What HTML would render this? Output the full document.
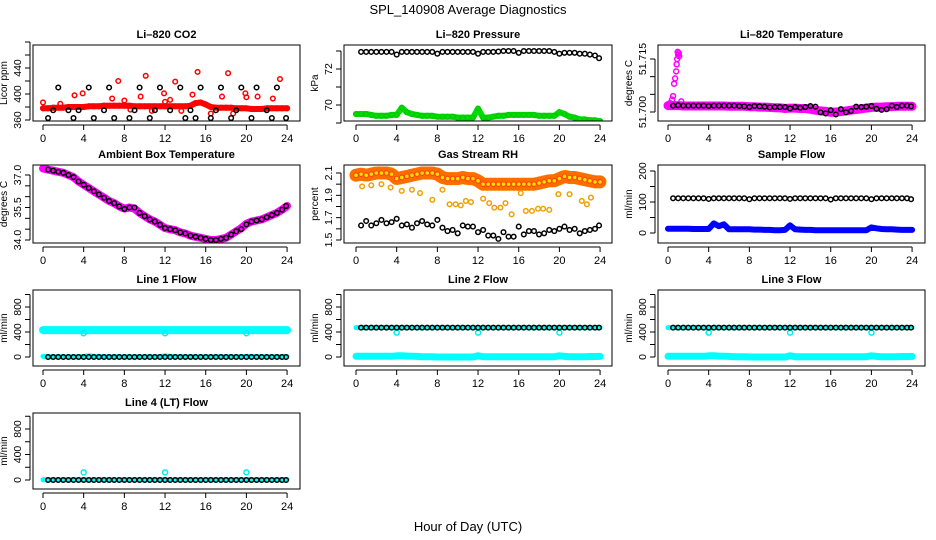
<!DOCTYPE html>
<html><head><meta charset="utf-8"><style>
body{margin:0;background:#fff}
svg{display:block;font-family:"Liberation Sans",Arial,sans-serif}
</style></head><body>
<svg id="chart" width="936" height="540" viewBox="0 0 936 540" xmlns="http://www.w3.org/2000/svg">
<text x="468" y="14" text-anchor="middle" font-size="13">SPL_140908  Average Diagnostics</text>
<text x="468" y="531" text-anchor="middle" font-size="13">Hour of Day (UTC)</text>
</svg>
<script>
// hours
const hoursBlack=[0.5,1,1.5,2,2.5,3,3.5,4,4.5,5,5.5,6,6.5,7,7.5,8,8.5,9,9.5,10,10.5,11,11.5,12,12.5,13,13.5,14,14.5,15,15.5,16,16.5,17,17.5,18,18.5,19,19.5,20,20.5,21,21.5,22,22.5,23,23.5,23.9];
const hoursBand=[0,0.5,1,1.5,2,2.5,3,3.5,4,4.5,5,5.5,6,6.5,7,7.5,8,8.5,9,9.5,10,10.5,11,11.5,12,12.5,13,13.5,14,14.5,15,15.5,16,16.5,17,17.5,18,18.5,19,19.5,20,20.5,21,21.5,22,22.5,23,23.5,24];
const xTicks=[0,4,8,12,16,20,24];
// CO2
const co2Black=[363,375,410,480,375,363,375,480,410,363,480,375,410,363,480,480,363,375,410,480,363,375,410,480,375,480,410,363,375,363,410,480,363,375,410,480,363,375,410,480,363,410,480,375,363,410,480,363];
const co2Red=[378,378,379,379,379,380,380,380,380,381,381,381,382,382,382,382,382,382,381,381,381,381,381,381,381,381,381,381,381,382,386,387,384,380,379,379,379,379,378,378,378,377,377,377,378,378,378,378,378];
const co2RedOutH=[0,1.7,3.1,3.9,6.8,7.4,8,8.6,9.6,10.1,10.7,11.9,12,12.5,13,13.6,14.7,15.2,16.5,17.6,18.2,18.7,19.9,20,21.1,22.6,23.3];
const co2RedOutV=[387,385,398,401,393,420,390,376,396,428,374,401,388,391,419,374,399,434,370,396,432,370,401,395,396,393,423];
// Pressure
const presBlack=[72.95,72.95,72.95,72.95,72.95,72.95,72.95,72.8,72.95,72.95,72.95,72.95,72.95,72.95,72.95,72.85,72.95,72.95,72.95,72.95,72.95,72.95,72.95,72.85,72.95,72.95,72.95,72.97,73,73,73,72.9,73,73,73,73,73,73,72.95,72.85,72.9,72.9,72.9,72.85,72.85,72.8,72.75,72.6];
const presGreen=[69.5,69.5,69.5,69.45,69.4,69.4,69.4,69.45,69.45,69.85,69.6,69.5,69.45,69.4,69.4,69.4,69.35,69.35,69.35,69.35,69.3,69.3,69.3,69.3,69.8,69.3,69.3,69.35,69.4,69.4,69.45,69.45,69.45,69.45,69.45,69.45,69.4,69.4,69.4,69.4,69.6,69.5,69.35,69.3,69.2,69.2,69.15,69.15,69.1];
// Li-820 temperature
const tempBlack=[51.7018,51.7019,51.7018,51.7018,51.7018,51.7018,51.7018,51.7017,51.7018,51.7018,51.7018,51.7018,51.7018,51.7017,51.7016,51.7014,51.7017,51.7016,51.7015,51.7013,51.7014,51.7014,51.7014,51.7010,51.7014,51.7012,51.7014,51.7017,51.7015,51.6999,51.6996,51.7005,51.6993,51.7008,51.6999,51.7003,51.7015,51.7014,51.7015,51.7017,51.7009,51.7006,51.7008,51.7018,51.7014,51.7018,51.7018,51.7016];
const tempMag=[51.7018,51.7018,51.7018,51.7017,51.7017,51.7017,51.7017,51.7017,51.7017,51.7017,51.7017,51.7017,51.7016,51.7016,51.7016,51.7016,51.7015,51.7015,51.7014,51.7014,51.7013,51.7012,51.7012,51.7010,51.7011,51.7011,51.7010,51.7010,51.7008,51.7005,51.7003,51.7002,51.6999,51.7000,51.7001,51.7003,51.7005,51.7007,51.7009,51.7011,51.7013,51.7014,51.7014,51.7015,51.7015,51.7016,51.7016,51.7016,51.7016];
const tempSpikeH=[0.2,0.4,0.5,0.6,0.7,0.8,0.85,0.9,0.95,1.0,1.05,1.1,1.3];
const tempSpikeV=[51.7025,51.7035,51.7045,51.7080,51.7095,51.7115,51.7135,51.7150,51.7170,51.7162,51.7167,51.7158,51.7030];
// Ambient
const ambBlack=[37.25,37.2,37.15,37.1,37.0,36.9,36.7,36.55,36.4,36.25,36.1,35.95,35.8,35.7,35.55,35.43,35.5,35.5,35.25,35.1,34.95,34.85,34.7,34.55,34.5,34.45,34.35,34.3,34.2,34.15,34.1,34.05,34.0,34.0,34.05,34.1,34.25,34.4,34.5,34.72,34.85,34.9,34.95,35.05,35.15,35.25,35.4,35.57];
const ambMag=[37.3,37.25,37.2,37.15,37.1,37.0,36.9,36.7,36.55,36.4,36.25,36.1,35.95,35.8,35.7,35.55,35.45,35.5,35.45,35.25,35.1,34.95,34.85,34.7,34.55,34.5,34.45,34.35,34.3,34.2,34.15,34.1,34.05,34.0,34.0,34.05,34.1,34.25,34.4,34.55,34.75,34.85,34.9,34.95,35.05,35.15,35.25,35.4,35.57];
// Gas stream RH
const rhYellow=[2.08,2.09,2.08,2.09,2.1,2.1,2.1,2.09,2.05,2.06,2.07,2.08,2.09,2.1,2.1,2.1,2.09,2.06,2.05,2.05,2.05,2.06,2.05,2.05,2.03,2.0,2.0,2.0,2.0,2.0,2.0,2.0,2.0,2.0,2.0,2.0,2.01,2.02,2.03,2.03,2.05,2.07,2.06,2.06,2.05,2.04,2.03,2.02,2.02];
const rhOutH=[0.6,1.5,2.5,3.4,4.5,5.5,6.3,7.5,8.5,9.2,9.8,10.3,10.8,11.3,12.5,13.1,13.6,14.2,14.7,15.3,16.2,16.7,17.3,17.9,18.4,19.0,19.9,21,22.2,22.7,23.1];
const rhOutV=[1.98,1.99,2.0,1.97,1.94,1.95,1.92,1.86,1.95,1.82,1.82,1.81,1.85,1.84,1.87,1.83,1.79,1.79,1.83,1.73,1.92,1.76,1.76,1.78,1.78,1.77,1.91,1.91,1.85,1.82,1.88];
const rhBlack=[1.63,1.67,1.63,1.65,1.68,1.65,1.66,1.69,1.63,1.64,1.61,1.65,1.67,1.64,1.63,1.68,1.61,1.58,1.59,1.56,1.63,1.62,1.62,1.57,1.59,1.54,1.54,1.51,1.57,1.53,1.53,1.62,1.55,1.58,1.58,1.55,1.56,1.59,1.58,1.6,1.62,1.59,1.6,1.56,1.58,1.59,1.6,1.63];
// Sample flow
const sampBlack=[112,112,112,112,112,112,112,110,112,112,112,112,112,112,112,109,112,112,112,112,112,112,112,110,112,112,112,112,112,112,112,108,112,112,112,112,112,112,112,109,112,112,112,112,112,112,112,109];
const sampBlue=[14,14,14,14,14,13,13,13,13,31,22,28,12,12,12,12,12,11,11,10,10,9,9,10,25,12,11,10,10,9,9,9,9,9,9,9,9,9,9,9,18,15,13,12,12,11,10,10,10];
// Line flows
const line1Cyan=[430,430,430,430,430,430,430,430,430,430,430,430,430,430,430,430,430,430,430,430,430,430,430,430,430,430,430,430,430,430,430,430,430,430,430,430,430,430,430,430,430,430,430,430,430,430,430,430,430];
const line1Low=[10,5,5,5,5,5,5,5,8,20,10,10,5,5,5,5,5,5,5,5,5,5,5,5,20,10,8,5,5,5,5,5,5,5,5,5,5,5,5,5,10,8,5,5,5,5,5,5,5];
const line1Black=[0,0,0,0,0,0,0,0,0,0,0,0,0,0,0,0,0,0,0,0,0,0,0,0,0,0,0,0,0,0,0,0,0,0,0,0,0,0,0,0,0,0,0,0,0,0,0,0];
const lineDipH=[4,12,20];
const line1DipV=[380,380,380];
const line2Black=[470,470,470,470,470,470,470,470,470,470,470,470,470,470,470,470,470,470,470,470,470,470,470,470,470,470,470,470,470,470,470,470,470,470,470,470,470,470,470,470,470,470,470,470,470,470,470,470];
const line2Cyan=[470,470,470,470,470,470,470,470,470,470,470,470,470,470,470,470,470,470,470,470,470,470,470,470,470,470,470,470,470,470,470,470,470,470,470,470,470,470,470,470,470,470,470,470,470,470,470,470,470];
const line2Low=[12,12,12,12,12,12,12,12,20,20,15,12,10,5,5,5,0,0,0,0,0,0,0,0,20,5,5,5,5,5,5,5,5,5,5,5,5,5,5,5,20,10,5,5,5,5,8,8,10];
const line2DipV=[390,390,390];
const line4Black=line1Black;
const line4Low=[5,5,5,5,5,5,5,5,5,5,5,5,5,5,5,5,5,5,5,5,5,5,5,5,5,5,5,5,5,5,5,5,5,5,5,5,5,5,5,5,5,5,5,5,5,5,5,5,5];
const line4OutV=[120,120,120];

const svg=document.getElementById('chart');
const NS='http://www.w3.org/2000/svg';
function mk(tag,attrs,parent){const e=document.createElementNS(NS,tag);for(const k in attrs)e.setAttribute(k,attrs[k]);(parent||svg).appendChild(e);return e;}

const cols=[{l:33,r:300,x0:43},{l:344,r:612,x0:356},{l:658,r:925,x0:668}];
const rows=[{t:45,b:121},{t:165,b:243},{t:290,b:366},{t:413,b:489}];
const XS=10.17;

function panel(name,title,ci,ri,v1,p1,v2,p2,ticks,labels,ylab,fmt){
  const c=cols[ci],r=rows[ri];
  const g=mk('g',{});
  
  
  const sx=h=>c.x0+h*XS;
  const sy=v=>p1+(v-v1)*(p2-p1)/(v2-v1);
  const t=mk('text',{x:(c.l+c.r)/2,y:r.t-7,'text-anchor':'middle','font-size':11,'font-weight':'bold'},g);
  t.textContent=title;
  
  
  const clip=mk('clipPath',{id:'c'+name},g);
  mk('rect',{x:c.l,y:r.t,width:c.r-c.l,height:r.b-r.t},clip);
  const plot=mk('g',{'clip-path':'url(#c'+name+')'},g);
  const box=mk('rect',{x:c.l,y:r.t,width:c.r-c.l,height:r.b-r.t,fill:'none',stroke:'#000','stroke-width':1},g);
  
  
  const xa=mk('g',{},g);
  
  
  mk('line',{x1:sx(0),x2:sx(24),y1:r.b+4,y2:r.b+4,stroke:'#000'},xa);
  xTicks.forEach(v=>{mk('line',{x1:sx(v),x2:sx(v),y1:r.b+4,y2:r.b+9,stroke:'#000'},xa);
    const tl=mk('text',{x:sx(v),y:r.b+21,'text-anchor':'middle','font-size':11},xa);tl.textContent=v;});
  const ya=mk('g',{},g);
  
  
  mk('line',{x1:c.l-3,x2:c.l-3,y1:sy(ticks[0]),y2:sy(ticks[ticks.length-1]),stroke:'#000'},ya);
  ticks.forEach(v=>mk('line',{x1:c.l-8,x2:c.l-3,y1:sy(v),y2:sy(v),stroke:'#000'},ya));
  labels.forEach(v=>{const x=c.l-12,y=sy(v);const tl=mk('text',{x:x,y:y,'text-anchor':'middle','font-size':10.5,transform:`rotate(-90 ${x} ${y})`},ya);tl.textContent=fmt?fmt(v):v;});
  const yl=mk('text',{x:c.l-26,y:(r.t+r.b)/2,'text-anchor':'middle','font-size':10,transform:`rotate(-90 ${c.l-26} ${(r.t+r.b)/2})`},g);
  yl.textContent=ylab;
  
  
  return {plot,sx,sy};
}
function pts(P,hs,vs,color,sname,r,sw,fill){
  const g=mk('g',{fill:fill||'none',stroke:color,'stroke-width':sw||1.5},P.plot);
  
  
  const n=Math.min(hs.length,vs.length);
  for(let i=0;i<n;i++){const e=mk('circle',{cx:P.sx(hs[i]),cy:P.sy(vs[i]),r:r||2.3},g);
    
    }
}
function band(P,hs,vs,color,sname,w,dash,op){
  const n=Math.min(hs.length,vs.length);let d='';
  for(let i=0;i<n;i++)d+=(i?'L':'M')+P.sx(hs[i]).toFixed(1)+','+P.sy(vs[i]).toFixed(1);
  const e=mk('path',{d:d,fill:'none',stroke:color,'stroke-width':w,'stroke-linejoin':'round','stroke-linecap':'round'},P.plot);
  if(dash)e.setAttribute('stroke-dasharray',dash);
  if(op)e.setAttribute('stroke-opacity',op);
  
  
}

// CO2
let P=panel('co2-panel','Li\u2013820 CO2',0,0,360,120,440,68,[360,380,400,420,440,460,480],[360,400,440],'Licor ppm');
band(P,hoursBand,co2Red,'#ff0000','co2-red-band',6);
pts(P,hoursBand,co2Red,'#ff0000','co2-red-series',2.3);
pts(P,co2RedOutH,co2RedOutV,'#ff0000','co2-red-outliers',2.3);
pts(P,hoursBlack,co2Black,'#000','co2-black-series',2.3);
// Pressure
P=panel('pressure-panel','Li\u2013820 Pressure',1,0,72,69,70,105,[69,70,71,72,73],[70,72],'kPa');
band(P,hoursBand,presGreen,'#00dd00','pressure-green-band',6);
pts(P,hoursBand,presGreen,'#00cc00','pressure-green-series',2.3);
pts(P,hoursBlack,presBlack,'#000','pressure-black-series',2.3);
// Temperature
P=panel('li820-temp-panel','Li\u2013820 Temperature',2,0,51.700,112,51.715,59,[51.700,51.705,51.710,51.715],[51.700,51.715],'degrees C',v=>v.toFixed(3));
band(P,hoursBand,tempMag,'#ff00ff','temp-magenta-band',9);
pts(P,tempSpikeH,tempSpikeV,'#ff00ff','temp-magenta-spike',2.5);
pts(P,hoursBlack,tempBlack,'#000','temp-black-series',2.3);
// Ambient
P=panel('ambient-panel','Ambient Box Temperature',0,1,37,175,34,240,[34,34.5,35,35.5,36,36.5,37],[34,35.5,37],'degrees C',v=>v.toFixed(1));
band(P,hoursBand,ambMag,'#ff00ff','ambient-magenta-band',8);
pts(P,hoursBlack,ambBlack,'#000','ambient-black-series',2.3);
// RH
P=panel('rh-panel','Gas Stream RH',1,1,2.1,173,1.5,240,[1.5,1.6,1.7,1.8,1.9,2.0,2.1],[1.5,1.7,1.9,2.1],'percent',v=>v.toFixed(1));
band(P,hoursBand,rhYellow,'#ffe000','rh-yellow-band',13);
band(P,hoursBand,rhYellow,'#ff2000','rh-red-hatch',13,'0.8 3',0.6);
pts(P,hoursBand,rhYellow,'#ff4000','rh-red-markers',2.3,1,'#ffe000');
pts(P,rhOutH,rhOutV,'#f0a000','rh-outliers',2.3);
pts(P,hoursBlack,rhBlack,'#000','rh-black-series',2.3);
// Sample flow
P=panel('sample-flow-panel','Sample Flow',2,1,0,233,100,202,[0,50,100,150,200],[0,100,200],'ml/min');
band(P,hoursBand,sampBlue,'#0000ff','sample-blue-band',6);
pts(P,hoursBlack,sampBlack,'#000','sample-black-series',2.3);
// Line 1
P=panel('line1-panel','Line 1 Flow',0,2,0,357,400,332,[0,200,400,600,800,1000],[0,400,800],'ml/min');
band(P,hoursBand,line1Cyan,'#00ffff','line1-cyan-band',8);
pts(P,lineDipH,line1DipV,'#00eeee','line1-cyan-dips',2.5);
band(P,hoursBand,line1Low,'#00ffff','line1-cyan-low-band',5);
pts(P,hoursBlack,line1Black,'#000','line1-black-series',2.3);
// Line 2
P=panel('line2-panel','Line 2 Flow',1,2,0,357,400,332,[0,200,400,600,800,1000],[0,400,800],'ml/min');
band(P,hoursBand,line2Cyan,'#00ffff','line2-cyan-band',5);
pts(P,lineDipH,line2DipV,'#00eeee','line2-cyan-dips',2.5);
band(P,hoursBand,line2Low,'#00ffff','line2-cyan-low-band',7);
pts(P,hoursBlack,line2Black,'#000','line2-black-series',2.3);
// Line 3
P=panel('line3-panel','Line 3 Flow',2,2,0,357,400,332,[0,200,400,600,800,1000],[0,400,800],'ml/min');
band(P,hoursBand,line2Cyan,'#00ffff','line3-cyan-band',5);
pts(P,lineDipH,line2DipV,'#00eeee','line3-cyan-dips',2.5);
band(P,hoursBand,line2Low,'#00ffff','line3-cyan-low-band',7);
pts(P,hoursBlack,line2Black,'#000','line3-black-series',2.3);
// Line 4
P=panel('line4-panel','Line 4 (LT) Flow',0,3,0,480,800,429,[0,200,400,600,800,1000],[0,400,800],'ml/min');
band(P,hoursBand,line4Low,'#00ffff','line4-cyan-band',5);
pts(P,lineDipH,line4OutV,'#00eeee','line4-cyan-outliers',2.5);
pts(P,hoursBlack,line4Black,'#000','line4-black-series',2.3);
</script>
</body></html>
